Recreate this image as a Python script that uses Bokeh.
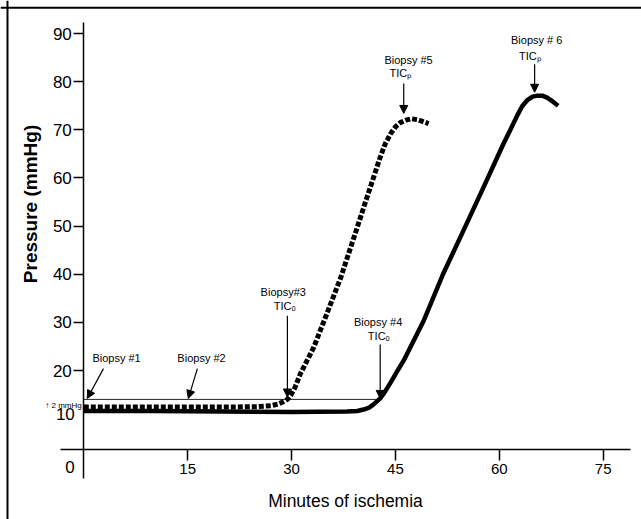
import math
from bokeh.plotting import figure
from bokeh.models import (Range1d, FixedTicker, LinearAxis, Label, Span, Arrow,
                          NormalHead, ColumnDataSource)
from bokeh.core.properties import value
from bokeh.embed import file_html
from bokeh.resources import INLINE

# ---------------- data ----------------
# Dashed curve (early-onset group)
dash_t = [0, 5, 10, 15, 20, 25, 27, 28.0, 28.8, 29.4, 29.9, 30.5, 31.3, 33.2, 35.1,
          37.1, 39.0, 40.9, 42.8, 43.5, 44.3, 45.0, 45.7, 46.5, 47.3, 48.2, 49.0, 49.8]
dash_p = [12.4, 12.4, 12.4, 12.4, 12.4, 12.5, 12.7, 13.0, 13.5, 14.0, 14.9, 16.5, 19.4,
          24.8, 31.8, 39.3, 47.6, 56.0, 64.3, 67.0, 69.2, 70.6, 71.5, 72.0, 72.3, 72.1,
          71.7, 71.3]

# Solid curve (late-onset group)
solid_t = [0, 10, 20, 30, 38, 39.5, 40.4, 41.2, 41.8, 42.8, 43.5, 44.3, 45.2, 46.2,
           49.1, 51.9, 54.8, 57.7, 60.6, 61.6, 62.6, 63.3, 64.0, 64.8, 65.5, 66.2,
           66.9, 67.7, 68.5]
solid_p = [11.6, 11.6, 11.5, 11.4, 11.5, 11.6, 11.9, 12.3, 12.9, 14.2, 15.6, 17.5,
           19.7, 22.1, 30.4, 40.1, 49.0, 58.0, 67.1, 70.0, 73.0, 74.9, 76.1, 76.9,
           77.1, 77.1, 76.7, 75.9, 75.0]

# +2 mmHg threshold line
thresh_t = [0, 42.8]
thresh_p = [14.0, 14.0]

# Biopsy events (arrow tips)
biopsy_labels = ["Biopsy #1", "Biopsy #2", "Biopsy#3", "Biopsy #4", "Biopsy #5", "Biopsy # 6"]
biopsy_t = [0.5, 15.1, 29.4, 42.8, 46.2, 65.1]
biopsy_p = [14.2, 14.2, 14.5, 14.2, 73.4, 77.8]
tic_labels = ["", "", "TIC\u2092", "TIC\u2092", "TIC\u209a", "TIC\u209a"]

x_ticks = [15, 30, 45, 60, 75]
y_ticks = [20, 30, 40, 50, 60, 70, 80, 90]
y_low_ticks = [0, 11]
y_low_labels = {11: "10"}

# ---------------- layout (positions) ----------------
arrow_tail_t = [2.84, 16.4, 29.4, 42.8, 46.2, 65.1]
arrow_tail_p = [20.4, 20.4, 31.4, 25.4, 79.6, 83.6]
label_t = [4.73, 17.0, 28.8, 42.5, 46.9, 65.4]
label_p = [22.7, 22.7, 36.3, 30.0, 84.6, 88.6]
tic_t = [0, 0, 29.0, 42.6, 45.7, 64.4]
tic_p = [0, 0, 33.3, 27.1, 81.7, 85.4]

FONT = "Liberation Sans"

p = figure(width=641, height=519, output_backend="svg", toolbar_location=None,
           x_range=Range1d(-12.029, 80.534), y_range=Range1d(-10.947, 96.863),
           min_border=0, title=None)
p.outline_line_color = None
p.xgrid.visible = False
p.ygrid.visible = False
p.background_fill_color = "white"
p.border_fill_color = "white"

# x axis
xa = p.xaxis[0]
xa.fixed_location = 3.6
xa.bounds = (-3.4, 79.0)
xa.ticker = FixedTicker(ticks=x_ticks)
xa.minor_tick_line_color = None
xa.major_tick_out = 11
xa.major_tick_in = 0
xa.major_tick_line_width = 1.5
xa.axis_line_width = 1.5
xa.axis_line_color = "black"
xa.major_label_standoff = 4
xa.major_label_text_font = FONT
xa.major_label_text_font_size = "15px"
xa.major_label_text_color = "black"
xa.axis_label = "Minutes of ischemia"
xa.axis_label_text_font = FONT
xa.axis_label_text_font_size = "17.5px"
xa.axis_label_text_font_style = "normal"
xa.axis_label_text_color = "black"
xa.axis_label_standoff = 13

# y axis
ya = p.yaxis[0]
ya.fixed_location = 0
ya.bounds = (-2.5, 92.3)
ya.ticker = FixedTicker(ticks=y_ticks)
ya.minor_tick_line_color = None
ya.major_tick_out = 10
ya.major_tick_in = 0
ya.major_tick_line_width = 1.5
ya.axis_line_width = 1.5
ya.axis_line_color = "black"
ya.major_label_standoff = 2
ya.major_label_text_font = FONT
ya.major_label_text_font_size = "17px"
ya.major_label_text_color = "black"

ya2 = LinearAxis(ticker=FixedTicker(ticks=y_low_ticks), fixed_location=0,
                 major_label_overrides=y_low_labels, axis_line_color=None,
                 major_tick_line_color=None, minor_tick_line_color=None,
                 major_tick_out=0, major_tick_in=0, major_label_standoff=9,
                 major_label_text_font=FONT, major_label_text_font_size="17px",
                 major_label_text_color="black")
p.add_layout(ya2, "left")

# border lines (page frame)
p.add_layout(Span(location=95.35, dimension="width", line_color="black", line_width=2))
p.add_layout(Span(location=-11.02, dimension="height", line_color="black", line_width=2))

# threshold line
p.line(thresh_t, thresh_p, line_color="#222222", line_width=1)

# curves
p.line(solid_t, solid_p, line_color="black", line_width=4.5, line_join="round")
p.line(dash_t, dash_p, line_color="black", line_width=5, line_dash="5 2",
       line_cap="butt")

# arrows
arr_src = ColumnDataSource(dict(x0=arrow_tail_t, y0=arrow_tail_p, x1=biopsy_t, y1=biopsy_p))
p.add_layout(Arrow(end=NormalHead(size=8, fill_color="black", line_color="black"),
                   x_start="x0", y_start="y0", x_end="x1", y_end="y1",
                   line_width=1.2, line_color="black", source=arr_src))

# texts
p.text(x=label_t, y=label_p, text=biopsy_labels, text_font=value(FONT),
       text_font_size="11px", text_align="center", text_baseline="middle",
       text_color="black")
tic_src = ColumnDataSource(dict(x=tic_t[2:], y=tic_p[2:], t=tic_labels[2:]))
p.text(x="x", y="y", text="t", source=tic_src, text_font=value(FONT),
       text_font_size="11px", text_align="center", text_baseline="middle",
       text_color="black")

p.add_layout(Label(x=-7.7, y=54.6, text="Pressure (mmHg)", angle=math.pi / 2,
                   text_align="center", text_baseline="middle", text_font=FONT,
                   text_font_size="19px", text_font_style="bold", text_color="black"))
p.add_layout(Label(x=-0.3, y=12.7, text="\u2191 2 mmHg", text_align="right",
                   text_baseline="middle", text_font=FONT, text_font_size="8px",
                   text_color="black"))

open("out.html", "w").write(file_html(p, INLINE))
